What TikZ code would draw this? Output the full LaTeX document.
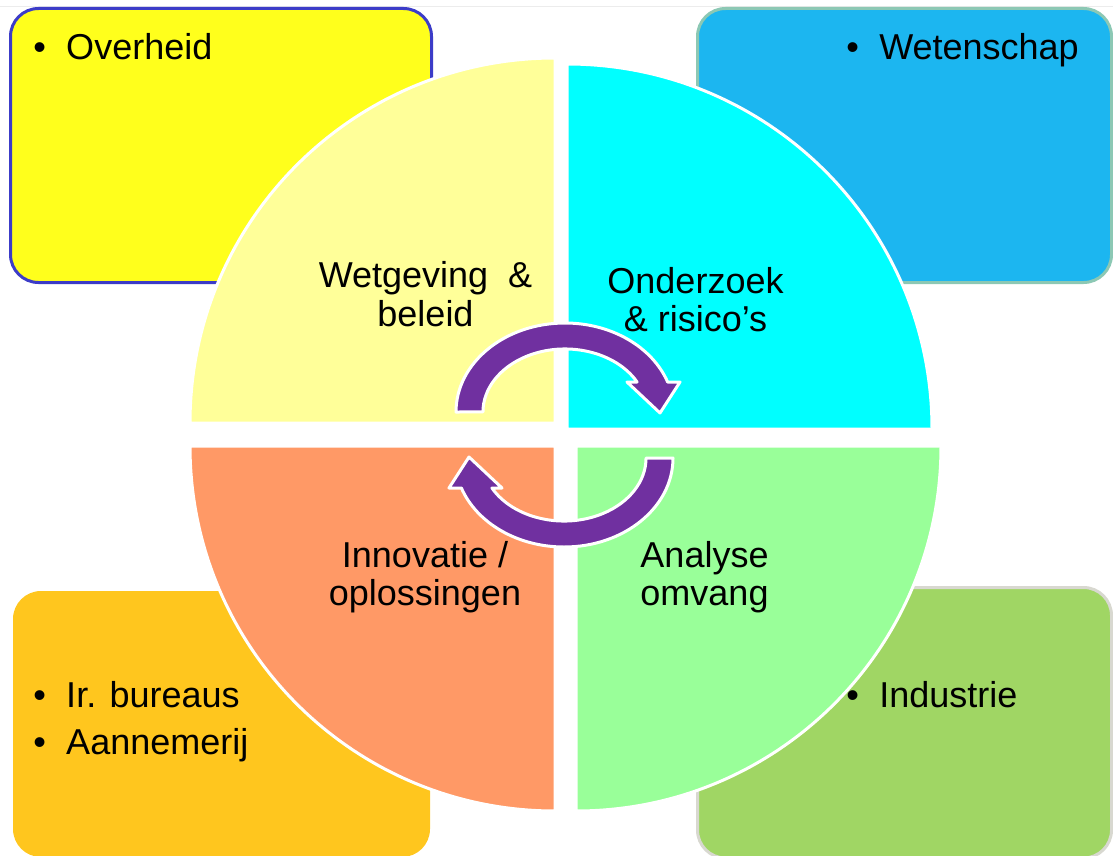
\documentclass[tikz,border=0pt]{standalone}
\usepackage{fontspec}
\setmainfont{Liberation Sans}
\usepackage{tikz}

\definecolor{govyellow}{RGB}{255,255,28}
\definecolor{govblue}{RGB}{60,60,200}
\definecolor{sciblue}{RGB}{28,182,240}
\definecolor{sciedge}{RGB}{140,200,180}
\definecolor{engorange}{RGB}{255,198,30}
\definecolor{indgreen}{RGB}{160,214,100}
\definecolor{indedge}{RGB}{216,216,208}
\definecolor{qlaw}{RGB}{255,255,153}
\definecolor{qresearch}{RGB}{0,255,255}
\definecolor{qinnov}{RGB}{255,153,102}
\definecolor{qanalysis}{RGB}{153,255,153}
\definecolor{cyclepurple}{RGB}{112,48,160}

\tikzset{
  quad/.style={draw=white, line width=2.25pt},
  cornerbox/.style={rounded corners=21pt, line width=2.25pt},
  bullettext/.style={anchor=base west, inner sep=0pt, font=\fontsize{27}{35.25}\selectfont},
  quadtext/.style={anchor=base, inner sep=0pt, font=\fontsize{27}{32}\selectfont},
  cyclefill/.style={fill=cyclepurple, draw=white, line width=2.25pt, line join=round}
}
\newcommand{\bul}[1]{\makebox[24.75pt][l]{\textbullet}#1}
% half-ring arrow, centre at origin, tail on the left, head on the right
\newcommand{\cyclearrow}{%
  \filldraw [cyclefill]
    (-109,0) arc[start angle=180, end angle=340.3, x radius=109, y radius=89]
    -- (115,-30) -- (95,1) -- (62,-30) -- (72.1,-30)
    arc[start angle=331.6, end angle=180, x radius=82, y radius=63]
    -- cycle;}

\begin{document}
\begin{tikzpicture}[x=0.75pt,y=0.75pt,yscale=-1,xscale=1]
\useasboundingbox (0,0) rectangle (1113,856);

%slide edge
\draw [gray!15, line width=0.75pt] (0,6.5) -- (1113,6.5);

%Corner boxes
\filldraw [cornerbox, fill=govyellow, draw=govblue] (10.5,8.5) rectangle (431.5,282.5);
\filldraw [cornerbox, fill=sciblue, draw=sciedge] (697.5,8.5) rectangle (1111.5,282.5);
\fill [cornerbox, fill=engorange] (13,591) rectangle (430,857);
\filldraw [cornerbox, fill=indgreen, draw=indedge] (697.5,587.5) rectangle (1111.5,858);

%Quadrants
\filldraw [quad, fill=qlaw] (555,423) -- ++(-365,0) arc[start angle=180, end angle=270, radius=365] -- cycle;
\filldraw [quad, fill=qresearch] (567,429) -- ++(0,-365) arc[start angle=270, end angle=360, radius=365] -- cycle;
\filldraw [quad, fill=qinnov] (555,446) -- ++(0,365) arc[start angle=90, end angle=180, radius=365] -- cycle;
\filldraw [quad, fill=qanalysis] (576,446) -- ++(365,0) arc[start angle=0, end angle=90, radius=365] -- cycle;

%Cycle arrows
\begin{scope}[shift={(565,412)}]
  \cyclearrow
\end{scope}
\begin{scope}[shift={(564,458)}, rotate=180]
  \cyclearrow
\end{scope}

% Text Node
\node (overheid) [bullettext] at (33,60) {\bul{Overheid}};
\node (wetenschap) [bullettext] at (846,60) {\bul{Wetenschap}};
\node (bureaus) [bullettext] at (33,707) {\bul{Ir. bureaus}};
\node (aannemerij) [bullettext] at (33,754) {\bul{Aannemerij}};
\node (industrie) [bullettext] at (846,707) {\bul{Industrie}};

% Text Node
\node (wetgeving) [quadtext] at (425.5,287) {Wetgeving \ \&};
\node (beleid) [quadtext] at (425.5,326) {beleid};
\node (onderzoek) [quadtext] at (695.5,293) {Onderzoek};
\node (risicos) [quadtext] at (695.5,331) {\& risico’s};
\node (innovatie) [quadtext] at (425,567) {Innovatie /};
\node (oplossingen) [quadtext] at (425,605) {oplossingen};
\node (analyse) [quadtext] at (704.5,567) {Analyse};
\node (omvang) [quadtext] at (704.5,605) {omvang};
\end{tikzpicture}
\end{document}
